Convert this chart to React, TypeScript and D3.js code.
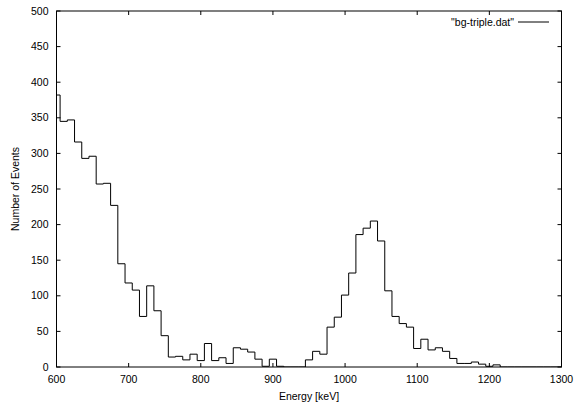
import React from "react";
import * as d3 from "d3";

const energies = [
  600, 610, 620, 630, 640, 650, 660, 670, 680, 690,
  700, 710, 720, 730, 740, 750, 760, 770, 780, 790,
  800, 810, 820, 830, 840, 850, 860, 870, 880, 890,
  900, 910, 920, 930, 940, 950, 960, 970, 980, 990,
  1000, 1010, 1020, 1030, 1040, 1050, 1060, 1070, 1080, 1090,
  1100, 1110, 1120, 1130, 1140, 1150, 1160, 1170, 1180, 1190,
  1200, 1210, 1220, 1230, 1240, 1250, 1260, 1270, 1280, 1290,
  1300,
];

const counts = [
  382, 345, 347, 316, 293, 296, 257, 258, 227, 145,
  118, 108, 71, 114, 79, 44, 14, 15, 10, 18,
  9, 33, 9, 13, 5, 27, 25, 21, 11, 1,
  11, 1, 0, 0, 0, 10, 22, 18, 56, 70,
  101, 132, 186, 195, 205, 177, 107, 71, 61, 56,
  26, 39, 24, 27, 22, 12, 5, 5, 7, 4,
  1, 3, 0, 0, 0, 0, 0, 0, 0, 0,
  0,
];

const xTicks = [600, 700, 800, 900, 1000, 1100, 1200, 1300];
const yTicks = [0, 50, 100, 150, 200, 250, 300, 350, 400, 450, 500];
const seriesName = '"bg-triple.dat"';
const xLabel = "Energy [keV]";
const yLabel = "Number of Events";

const W = 575;
const H = 408;
const L = 56.5;
const R = 561.5;
const T = 11;
const B = 367;
const FONT = "'Liberation Sans', Arial, Helvetica, sans-serif";
const FS = 10.5;

export default function App() {
  const x = d3.scaleLinear().domain([600, 1300]).range([L, R]);
  const y = d3.scaleLinear().domain([0, 500]).range([B, T]);

  const pts: [number, number][] = [];
  const n = energies.length;
  for (let i = 0; i < n; i++) {
    const left =
      i === 0 ? energies[0] - (energies[1] - energies[0]) / 2 : (energies[i - 1] + energies[i]) / 2;
    const right =
      i === n - 1 ? energies[i] + (energies[i] - energies[i - 1]) / 2 : (energies[i] + energies[i + 1]) / 2;
    pts.push([x(left), y(counts[i])]);
    pts.push([x(right), y(counts[i])]);
  }
  const path = d3.line()(pts) || "";
  const tl = 4;

  return (
    <svg
      width={W}
      height={H}
      style={{ position: "absolute", left: 0, top: 0, background: "#fff" }}
      fontFamily={FONT}
      fontSize={FS}
    >
      <defs>
        <clipPath id="plotclip">
          <rect x={L} y={T} width={R - L} height={B - T} />
        </clipPath>
      </defs>
      <rect x={0} y={0} width={W} height={H} fill="#fff" />
      {xTicks.map((t) => (
        <g key={"x" + t}>
          <line x1={x(t)} x2={x(t)} y1={B} y2={B - tl} stroke="#000" strokeWidth={1} />
          <line x1={x(t)} x2={x(t)} y1={T} y2={T + tl} stroke="#000" strokeWidth={1} />
          <text x={x(t)} y={B + 16} textAnchor="middle" fill="#000">
            {t}
          </text>
        </g>
      ))}
      {yTicks.map((t) => (
        <g key={"y" + t}>
          <line x1={L} x2={L + tl} y1={y(t)} y2={y(t)} stroke="#000" strokeWidth={1} />
          <line x1={R} x2={R - tl} y1={y(t)} y2={y(t)} stroke="#000" strokeWidth={1} />
          <text x={L - 8} y={y(t)} dy="0.35em" textAnchor="end" fill="#000">
            {t}
          </text>
        </g>
      ))}
      <path d={path} fill="none" stroke="#000" strokeWidth={1} clipPath="url(#plotclip)" />
      <rect x={L} y={T} width={R - L} height={B - T} fill="none" stroke="#000" strokeWidth={1} />
      <text x={(L + R) / 2} y={400} textAnchor="middle" fill="#000">
        {xLabel}
      </text>
      <text
        transform={`translate(19, ${(T + B) / 2}) rotate(-90)`}
        textAnchor="middle"
        fill="#000"
      >
        {yLabel}
      </text>
      <text x={514} y={22} dy="0.35em" textAnchor="end" fill="#000">
        {seriesName}
      </text>
      <line x1={518} x2={549} y1={22} y2={22} stroke="#000" strokeWidth={1} />
    </svg>
  );
}
